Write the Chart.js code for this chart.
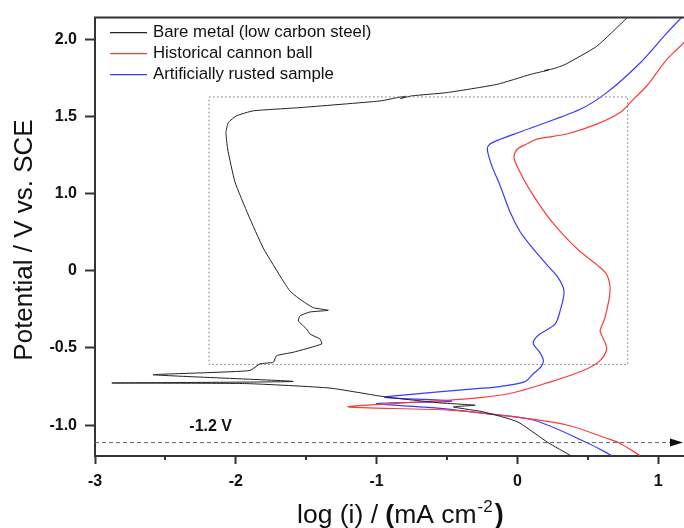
<!DOCTYPE html>
<html>
<head>
<meta charset="utf-8">
<script src="https://cdn.jsdelivr.net/npm/chart.js@4.4.0/dist/chart.umd.min.js"></script>
<style>
  body { margin: 0; background: #fff; }
  canvas { display: block; }
</style>
</head>
<body>
<canvas id="polChart" width="684" height="528"></canvas>
<script>
const FONT = "'Liberation Sans', Arial, sans-serif";

// series: [log(i), potential]
const bareMetal = [
    [0.378, -1.197], [0.217, -1.113], [0, -0.978], [-0.242, -0.914], [-0.455, -0.882],
    [-0.30, -0.871], [-0.55, -0.856], [-0.94, -0.817], [-1.331, -0.76], [-1.923, -0.731],
    [-2.88, -0.727], [-1.592, -0.717], [-2.586, -0.674], [-2.2, -0.66], [-1.9, -0.646],
    [-1.828, -0.603], [-1.734, -0.593], [-1.71, -0.55], [-1.592, -0.528], [-1.39, -0.474],
    [-1.402, -0.442], [-1.473, -0.41], [-1.497, -0.378], [-1.556, -0.325], [-1.544, -0.292],
    [-1.473, -0.267], [-1.343, -0.256], [-1.45, -0.239], [-1.544, -0.185], [-1.615, -0.132],
    [-1.663, -0.067], [-1.805, 0.147], [-1.911, 0.361], [-2.006, 0.575], [-2.058, 0.789],
    [-2.07, 0.896], [-2.053, 0.961], [-1.994, 1.004], [-1.876, 1.036], [-1.544, 1.057],
    [-0.976, 1.10], [-0.83, 1.126], [-0.79, 1.13], [-0.83, 1.116], [-0.75, 1.133],
    [-0.502, 1.154], [-0.147, 1.207], [0.089, 1.271], [0.22, 1.30], [0.19, 1.296],
    [0.26, 1.31], [0.338, 1.336], [0.563, 1.454], [0.776, 1.636], [0.79, 1.65]
];
const cannonBall = [
    [0.871, -1.197], [0.717, -1.113], [0.634, -1.085], [0.35, -0.999], [-0.124, -0.935],
    [-0.479, -0.903], [-1.2, -0.882], [-0.834, -0.857], [-0.36, -0.83], [-0.053, -0.795],
    [0.231, -0.721], [0.468, -0.646], [0.587, -0.582], [0.634, -0.506], [0.60, -0.42],
    [0.587, -0.389], [0.622, -0.303], [0.658, -0.132], [0.634, -0.024], [0.563, 0.04],
    [0.445, 0.125], [0.326, 0.233], [0.208, 0.361], [0.089, 0.522], [0.006, 0.661],
    [-0.024, 0.736], [0, 0.789], [0.066, 0.821], [0.137, 0.853], [0.35, 0.886],
    [0.563, 0.95], [0.729, 1.025], [0.823, 1.11], [0.918, 1.197], [0.989, 1.282],
    [1.06, 1.368], [1.131, 1.432], [1.178, 1.475], [1.19, 1.49]
];
const rustedSample = [
    [0.669, -1.197], [0.492, -1.113], [0.113, -0.967], [-0.242, -0.924], [-0.55, -0.892],
    [-1.0, -0.86], [-0.467, -0.845], [-0.94, -0.82], [-0.834, -0.807], [-0.289, -0.764],
    [-0.124, -0.75], [0.05, -0.72], [0.113, -0.667], [0.17, -0.62], [0.184, -0.58],
    [0.16, -0.53], [0.113, -0.474], [0.125, -0.44], [0.16, -0.41], [0.267, -0.346],
    [0.303, -0.26], [0.331, -0.132], [0.29, -0.046], [0.208, 0.04], [0.089, 0.168],
    [0.018, 0.254], [-0.053, 0.382], [-0.124, 0.554], [-0.183, 0.683], [-0.214, 0.789],
    [-0.195, 0.821], [-0.147, 0.843], [0.042, 0.907], [0.445, 1.046], [0.634, 1.154],
    [0.871, 1.346], [1.06, 1.539], [1.167, 1.642]
];

const seriesNames = ['Bare metal (low carbon steel)', 'Historical cannon ball', 'Artificially rusted sample'];
const seriesColors = ['#222222', '#ff3a3a', '#3a3aff'];

// zoom box and -1.2 V marker
const boxX = [-2.19, 0.783];
const boxY = [-0.607, 1.126];
const markerY = -1.113;
const markerLabel = '-1.2 V';

const xTicks = [-3, -2, -1, 0, 1];
const xMinorTicks = [-2.5, -1.5, -0.5, 0.5];
const yTicks = [-1, -0.5, 0, 0.5, 1, 1.5];
const yTickLabels = ['-1.0', '-0.5', '0', '1.0', '1.5', '2.0'];

const toPts = arr => arr.map(p => ({ x: p[0], y: p[1] }));

const extras = {
    id: 'extras',
    afterDraw(chart) {
        const { ctx, chartArea: a, scales: { x, y } } = chart;
        ctx.save();
        // top frame
        ctx.strokeStyle = '#333';
        ctx.lineWidth = 2;
        ctx.beginPath();
        ctx.moveTo(a.left - 1, a.top);
        ctx.lineTo(a.right, a.top);
        ctx.stroke();
        // minor x ticks
        ctx.beginPath();
        xMinorTicks.forEach(v => {
            const px = Math.round(x.getPixelForValue(v));
            ctx.moveTo(px, a.bottom);
            ctx.lineTo(px, a.bottom + 4);
        });
        ctx.stroke();
        // arrow head
        const ay = y.getPixelForValue(markerY);
        const tip = a.right - 1;
        ctx.fillStyle = '#111';
        ctx.beginPath();
        ctx.moveTo(tip, ay);
        ctx.lineTo(tip - 13, ay - 4);
        ctx.lineTo(tip - 13, ay + 4);
        ctx.closePath();
        ctx.fill();
        // marker label
        ctx.font = 'bold 16px ' + FONT;
        ctx.textBaseline = 'middle';
        ctx.textAlign = 'left';
        ctx.fillStyle = '#111';
        ctx.fillText(markerLabel, x.getPixelForValue(-2.33), y.getPixelForValue(-1.007));
        // legend
        ctx.font = '16.8px ' + FONT;
        seriesNames.forEach((name, i) => {
            const ly = a.top + 15 + i * 21;
            ctx.strokeStyle = seriesColors[i];
            ctx.lineWidth = 1.2;
            ctx.beginPath();
            ctx.moveTo(110, ly);
            ctx.lineTo(147, ly);
            ctx.stroke();
            ctx.fillStyle = '#111';
            ctx.fillText(name, 153, ly);
        });
        // y title
        ctx.save();
        ctx.translate(32, 240);
        ctx.rotate(-Math.PI / 2);
        ctx.font = '26px ' + FONT;
        ctx.textAlign = 'center';
        ctx.textBaseline = 'alphabetic';
        ctx.fillText('Potential / V vs. SCE', 0, 0);
        ctx.restore();
        // x title with superscript
        const parts = [
            ['log (i) / ', '26.5px ' + FONT, 0, 0],
            ['(', 'bold 26.5px ' + FONT, 0, 0],
            ['mA cm', '26.5px ' + FONT, 0, 0],
            ['-2', '17px ' + FONT, -11, 1],
            [')', 'bold 27px ' + FONT, 0, 2]
        ];
        ctx.textAlign = 'left';
        ctx.textBaseline = 'alphabetic';
        let tx = 297;
        parts.forEach(([t, f, dy, gap]) => {
            ctx.font = f;
            tx += gap;
            ctx.fillText(t, tx, 523 + dy);
            tx += ctx.measureText(t).width;
        });
        ctx.restore();
    }
};

new Chart(document.getElementById('polChart'), {
    type: 'scatter',
    data: {
        datasets: [
            {
                data: toPts([[boxX[0], boxY[1]], [boxX[1], boxY[1]], [boxX[1], boxY[0]], [boxX[0], boxY[0]], [boxX[0], boxY[1]]]),
                borderColor: '#777',
                borderWidth: 1,
                borderDash: [1.5, 2.5],
                tension: 0
            },
            {
                data: toPts([[-3, markerY], [1.12, markerY]]),
                borderColor: '#666',
                borderWidth: 1,
                borderDash: [4, 3],
                tension: 0
            },
            { data: toPts(bareMetal), borderColor: seriesColors[0], borderWidth: 1, tension: 0.15 },
            { data: toPts(cannonBall), borderColor: seriesColors[1], borderWidth: 1.2, tension: 0.3 },
            { data: toPts(rustedSample), borderColor: seriesColors[2], borderWidth: 1.2, tension: 0.3 }
        ]
    },
    options: {
        responsive: false,
        animation: false,
        devicePixelRatio: 1,
        showLine: true,
        elements: { point: { radius: 0, hoverRadius: 0 } },
        layout: { padding: { top: 14, right: 0, left: 0, bottom: 0 } },
        plugins: {
            legend: { display: false },
            tooltip: { enabled: false }
        },
        scales: {
            x: {
                type: 'linear',
                min: -3,
                max: 1.183,
                afterFit: s => { s.height = 72; },
                afterBuildTicks: s => { s.ticks = xTicks.map(v => ({ value: v })); },
                grid: { drawOnChartArea: false, tickLength: 8, tickWidth: 2, tickColor: '#333' },
                border: { color: '#333', width: 2 },
                ticks: {
                    color: '#111',
                    padding: 8,
                    font: { family: FONT, size: 16, weight: 'bold' },
                    callback: v => String(v)
                }
            },
            y: {
                type: 'linear',
                min: -1.2,
                max: 1.64,
                afterFit: s => { s.width = 95; },
                afterBuildTicks: s => { s.ticks = yTicks.map(v => ({ value: v })); },
                grid: { drawOnChartArea: false, tickLength: 10, tickWidth: 2, tickColor: '#333' },
                border: { color: '#333', width: 2 },
                ticks: {
                    color: '#111',
                    padding: 8,
                    font: { family: FONT, size: 16, weight: 'bold' },
                    callback: v => yTickLabels[yTicks.indexOf(v)]
                }
            }
        }
    },
    plugins: [extras]
});
</script>
</body>
</html>
